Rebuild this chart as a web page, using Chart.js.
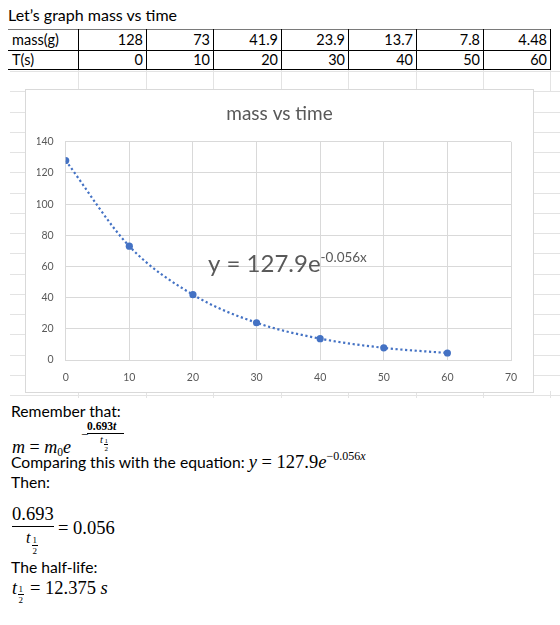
<!DOCTYPE html>
<html><head><meta charset="utf-8">
<script src="https://cdn.jsdelivr.net/npm/chart.js@4.4.1/dist/chart.umd.min.js"></script>
<style>
html,body{margin:0;padding:0;background:#fff;}
#page{position:relative;width:560px;height:625px;overflow:hidden;font-family:Lato,"Liberation Sans",sans-serif;color:#000;background:#fff;}
.gh{position:absolute;height:1px;background:#e3e3e3;}
.gv{position:absolute;width:1px;background:#e3e3e3;}
#chartBox{position:absolute;left:26px;top:90px;width:507px;height:302px;background:#fff;outline:1px solid #d9d9d9;}
#chartBox canvas{display:block;}
#heading{position:absolute;left:8px;top:6px;font-size:16px;line-height:18px;white-space:nowrap;}
.cell{position:absolute;height:19px;line-height:19px;font-size:14.5px;white-space:nowrap;box-sizing:border-box;}
.bl{position:absolute;background:#000;}
#textBox{position:absolute;left:0;top:398px;width:560px;height:227px;background:#fff;}
.t{position:absolute;left:11px;font-size:15.7px;line-height:18px;height:18px;white-space:nowrap;}
.m{position:absolute;font-family:"Liberation Serif",serif;white-space:nowrap;line-height:1;}
.i{font-style:italic;}
.bar{position:absolute;height:1px;background:#000;}
</style>
</head><body>
<div id="page">
  <div id="grid"></div>
  <div id="heading">Let’s graph mass vs time</div>
  <div id="table"></div>
  <div id="chartBox"><canvas id="c" width="507" height="302"></canvas></div>
  <div id="textBox">
    <div class="t" style="top:4px">Remember that:</div>
    <!-- m = m0 e^(-0.693t / t1/2) -->
    <div class="m" style="left:12px;top:40px;font-size:18px"><span class="i">m</span> = <span class="i">m</span><span style="font-size:11.5px;position:relative;top:3px">0</span><span class="i">e</span></div>
    <div class="m" style="left:81px;top:30px;font-size:13px">−</div>
    <div class="m" style="left:87px;top:23px;font-size:11.5px;font-weight:bold;">0.693<span class="i">t</span></div>
    <div class="bar" style="left:87px;top:35px;width:37px;"></div>
    <div class="m i" style="left:100px;top:37px;font-size:10.5px;">t</div>
    <div class="m" style="left:104.5px;top:40px;font-size:7px;">1</div>
    <div class="bar" style="left:104px;top:46px;width:4px;height:0.7px"></div>
    <div class="m" style="left:104.5px;top:47.5px;font-size:7px;">2</div>
    <div class="t" style="top:55px">Comparing this with the equation: <span style="font-family:'Liberation Serif',serif;font-size:18.5px"><span class="i">y</span> = 127.9<span class="i">e</span><span style="font-size:12px;position:relative;top:-8px">−0.056<span class="i">x</span></span></span></div>
    <div class="t" style="top:75px">Then:</div>
    <div class="m" style="left:12px;top:107px;font-size:18.5px">0.693</div>
    <div class="bar" style="left:12px;top:128px;width:42px;"></div>
    <div class="m" style="left:58px;top:121px;font-size:18.5px">= 0.056</div>
    <div class="m i" style="left:26px;top:132px;font-size:16px">t</div>
    <div class="m" style="left:32.5px;top:138px;font-size:9px">1</div>
    <div class="bar" style="left:32px;top:147px;width:5.5px;"></div>
    <div class="m" style="left:32.5px;top:149px;font-size:9px">2</div>
    <div class="t" style="top:160px">The half-life:</div>
    <div class="m i" style="left:12px;top:181px;font-size:18px">t</div>
    <div class="m" style="left:18.5px;top:187px;font-size:9px">1</div>
    <div class="bar" style="left:18px;top:196px;width:5.5px;"></div>
    <div class="m" style="left:18.5px;top:198px;font-size:9px">2</div>
    <div class="m" style="left:30px;top:181px;font-size:18.5px">= 12.375 <span class="i">s</span></div>
  </div>
</div>
<script>
// ---- data ----
const massG = [128, 73, 41.9, 23.9, 13.7, 7.8, 4.48];
const timeS = [0, 10, 20, 30, 40, 50, 60];
const rowLabels = ["mass(g)", "T(s)"];
const chartTitle = "mass vs time";
const xTickValues = [0, 10, 20, 30, 40, 50, 60, 70];
const yTickValues = [0, 20, 40, 60, 80, 100, 120, 140];
const trendCoef = "127.9";
const trendExp = "-0.056x";

// ---- spreadsheet grid (background) ----
const grid = document.getElementById('grid');
const colEdges = [78, 146, 213, 281, 348, 416, 483, 550];
for (let k = 0; k < 17; k++) {
  const y = Math.round(71 + 20.25 * k);
  const h = document.createElement('div'); h.className = 'gh';
  h.style.left = '10px'; h.style.width = '550px'; h.style.top = y + 'px';
  grid.appendChild(h);
}
colEdges.forEach(x => {
  [[69, 22], [391, 8]].forEach(([top, hh]) => {
    const v = document.createElement('div'); v.className = 'gv';
    v.style.left = x + 'px'; v.style.top = top + 'px'; v.style.height = hh + 'px';
    grid.appendChild(v);
  });
});

// ---- table ----
const table = document.getElementById('table');
const rowsTop = [30, 50];
const rowsData = [massG, timeS];
const tblLeft = 8, tblRight = 550;
function addLine(l, t, w, h, c) {
  const d = document.createElement('div'); d.className = 'bl';
  d.style.left = l + 'px'; d.style.top = t + 'px'; d.style.width = w + 'px'; d.style.height = h + 'px';
  if (c) d.style.background = c;
  table.appendChild(d);
}
rowsData.forEach((vals, r) => {
  const lab = document.createElement('div'); lab.className = 'cell';
  lab.style.left = '12px'; lab.style.top = rowsTop[r] + 'px'; lab.textContent = rowLabels[r];
  table.appendChild(lab);
  vals.forEach((v, i) => {
    const d = document.createElement('div'); d.className = 'cell';
    const l = colEdges[i], rr = colEdges[i + 1];
    d.style.left = l + 'px'; d.style.width = (rr - l) + 'px';
    d.style.textAlign = 'right'; d.style.paddingRight = '3px';
    d.style.top = rowsTop[r] + 'px'; d.textContent = String(v);
    table.appendChild(d);
  });
});
addLine(tblLeft, 29, tblRight - tblLeft, 1, '#7a7a7a');
addLine(tblLeft, 50, tblRight - tblLeft, 1);
addLine(tblLeft, 69, tblRight - tblLeft, 1);
colEdges.forEach(x => addLine(x, 29, 1, 41));

// ---- chart ----
const blue = '#4472C4';
const trendLabel = {
  id: 'trendLabel',
  afterDatasetsDraw(chart) {
    const ctx = chart.ctx;
    ctx.save();
    ctx.fillStyle = '#595959';
    ctx.textBaseline = 'alphabetic';
    ctx.font = '24px Lato';
    const main = 'y = ' + trendCoef + 'e';
    const x0 = 182, y0 = 182;
    ctx.fillText(main, x0, y0);
    const w = ctx.measureText(main).width;
    ctx.font = '13.5px Lato';
    ctx.fillText(trendExp, x0 + w, y0 - 10);
    ctx.restore();
  }
};
new Chart(document.getElementById('c'), {
  type: 'scatter',
  data: {
    datasets: [{
      data: timeS.map((t, i) => ({ x: t, y: massG[i] })),
      showLine: true,
      cubicInterpolationMode: 'monotone',
      borderColor: blue,
      borderWidth: 2.2,
      borderDash: [2.2, 2.6],
      pointRadius: 3.6,
      pointBackgroundColor: blue,
      pointBorderWidth: 0,
      pointHoverRadius: 3.6
    }]
  },
  options: {
    responsive: false,
    animation: false,
    devicePixelRatio: 1,
    layout: { padding: { left: 11, right: 11, top: 0, bottom: 0 } },
    plugins: {
      legend: { display: false },
      tooltip: { enabled: false },
      title: {
        display: true, text: chartTitle, color: '#595959',
        font: { family: 'Lato', size: 19, weight: 'normal' },
        padding: { top: 12, bottom: 17 }
      }
    },
    scales: {
      x: {
        type: 'linear', min: 0, max: 70,
        afterBuildTicks: s => { s.ticks = xTickValues.map(v => ({ value: v })); },
        afterFit: s => { s.height = 32; },
        grid: { color: '#d9d9d9', drawTicks: false },
        border: { color: '#d9d9d9' },
        ticks: { color: '#595959', font: { family: 'Lato', size: 10.5 }, padding: 11 }
      },
      y: {
        type: 'linear', min: 0, max: 140,
        afterBuildTicks: s => { s.ticks = yTickValues.map(v => ({ value: v })); },
        afterFit: s => { s.width = 28.7; },
        grid: { color: '#d9d9d9', drawTicks: false },
        border: { color: '#d9d9d9' },
        ticks: { color: '#595959', font: { family: 'Lato', size: 10.5 }, padding: 12 }
      },
      yR: {
        type: 'linear', position: 'right', min: 0, max: 140,
        afterFit: s => { s.width = 11; },
        grid: { display: false, drawTicks: false },
        border: { display: false },
        ticks: { display: false }
      }
    }
  },
  plugins: [trendLabel]
});
</script>
</body></html>
